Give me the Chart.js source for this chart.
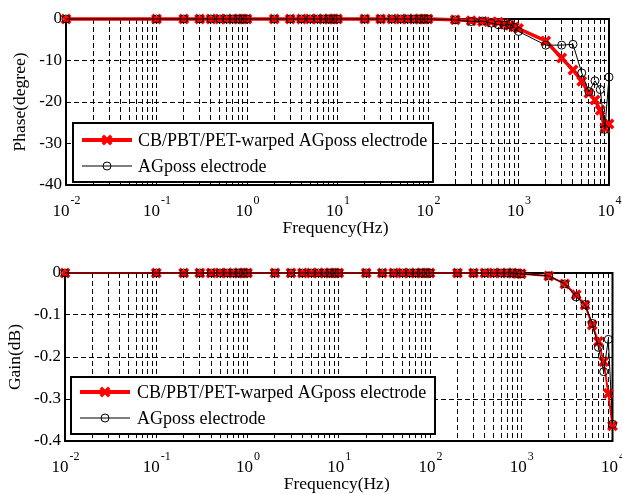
<!DOCTYPE html>
<html><head><meta charset="utf-8">
<script src="https://cdn.jsdelivr.net/npm/chart.js@4.4.1/dist/chart.umd.min.js"></script>
<style>html,body{margin:0;padding:0;background:#fff;width:622px;height:494px;overflow:hidden;} canvas{display:block;position:absolute;left:0;}</style>
</head><body>
<canvas id="c1" width="622" height="247" style="top:0"></canvas>
<canvas id="c2" width="622" height="247" style="top:247px"></canvas>
<script>
// ---- data ----
const frequencies = [0.01,
  0.1,0.2,0.3,0.4,0.5,0.6,0.7,0.8,0.9,1,
  2,3,4,5,6,7,8,9,10,
  20,30,40,50,60,70,80,90,100,
  200,300,400,500,600,700,800,900,1000,
  2000,3000,4000,5000,6000,7000,8000,9000,10000];
const phaseCoated = [0,
  0,0,0,0,0,0,0,0,0,0,
  0,0,0,0,0,0,0,0,0,
  0,0,0,0,0,0,0,0,0,
  -0.2,-0.4,-0.6,-0.7,-0.8,-1.2,-1.5,-1.9,-2.3,
  -5.3,-9.4,-12.3,-15,-17.9,-19.5,-22,-26.3,-25.3];
const phaseAGposs = [0,
  0,0,0,0,0,0,0,0,0,0,
  0,0,0,0,0,0,0,0,0,
  0,0,0,0,0,0,0,0,0,
  -0.2,-0.6,-0.5,-1.0,-1.4,-1.5,-1.3,-2.0,-3.0,
  -6.3,-6.3,-6.1,-13,-17.5,-14.9,-17,-26.6,-14];
const gainCoated = [0,
  0,0,0,0,0,0,0,0,0,0,
  0,0,0,0,0,0,0,0,0,
  0,0,0,0,0,0,0,0,0,
  0,0,0,0,0,0,0,-0.001,-0.002,
  -0.007,-0.026,-0.052,-0.076,-0.124,-0.163,-0.211,-0.287,-0.364];
const gainAGposs = [0,
  0,0,0,0,0,0,0,0,0,0,
  0,0,0,0,0,0,0,0,0,
  0,0,0,0,0,0,0,0,0,
  0,0,0,0,0,0,0,-0.001,-0.002,
  -0.007,-0.026,-0.057,-0.075,-0.12,-0.177,-0.235,-0.158,-0.36];
const seriesLabels = ['CB/PBT/PET-warped AGposs electrode', 'AGposs electrode'];
const xTickExponents = [-2, -1, 0, 1, 2, 3, 4];
const xTitle = 'Frequency(Hz)';
const phaseTitle = 'Phase(degree)';
const gainTitle = 'Gain(dB)';

// ---- drawing ----
const SERIF = '"Liberation Serif", "Times New Roman", serif';
Chart.defaults.font.family = SERIF;
Chart.defaults.color = '#000';

const gridValues = [];
for (let e = -2; e <= 3; e++) for (let m = 1; m <= 9; m++) gridValues.push(m * Math.pow(10, e));
gridValues.push(10000);

function pts(arr) { return frequencies.map((f, i) => ({x: f, y: arr[i]})); }

function overlayPlugin(o) {
  return {
    id: 'overlay',
    beforeDatasetsDraw(chart) {
      const ctx = chart.ctx, a = chart.chartArea;
      ctx.save();
      ctx.strokeStyle = '#000'; ctx.lineWidth = 2; ctx.setLineDash([]);
      ctx.strokeRect(a.left, a.top, a.right - a.left, a.bottom - a.top);
      ctx.restore();
    },
    afterDraw(chart) {
      const ctx = chart.ctx, a = chart.chartArea, xs = chart.scales.x;
      ctx.save();
      ctx.fillStyle = '#000';
      ctx.textAlign = 'left'; ctx.textBaseline = 'alphabetic';
      xTickExponents.forEach(e => {
        const px = xs.getPixelForValue(Math.pow(10, e));
        ctx.font = '17px ' + SERIF;
        const w10 = ctx.measureText('10').width;
        ctx.font = '12px ' + SERIF;
        const sup = String(e);
        const ws = ctx.measureText(sup).width;
        const start = px - (w10 + ws) / 2;
        ctx.font = '17px ' + SERIF;
        ctx.fillText('10', start, a.bottom + 31);
        ctx.font = '12px ' + SERIF;
        ctx.fillText(sup, start + w10 + 1, a.bottom + 19);
      });
      // x title
      ctx.font = '17.5px ' + SERIF;
      ctx.textAlign = 'center';
      ctx.fillText(xTitle, (a.left + a.right) / 2 - 2, a.bottom + 48);
      // y title
      ctx.save();
      ctx.translate(o.yTitleX, (a.top + a.bottom) / 2);
      ctx.rotate(-Math.PI / 2);
      ctx.textBaseline = 'middle';
      ctx.fillText(o.yTitle, 0, 0);
      ctx.restore();
      // legend
      const b = o.legend;
      ctx.fillStyle = '#fff';
      ctx.fillRect(b.x, b.y, b.w, b.h);
      ctx.strokeStyle = '#000'; ctx.lineWidth = 2; ctx.setLineDash([]);
      ctx.strokeRect(b.x, b.y, b.w, b.h);
      const ds = chart.data.datasets;
      b.rows.forEach((ry, i) => {
        const d = ds[i];
        ctx.strokeStyle = d.borderColor; ctx.lineWidth = i === 0 ? 4 : d.borderWidth;
        ctx.beginPath(); ctx.moveTo(b.lx0, ry); ctx.lineTo(b.lx1, ry); ctx.stroke();
        ctx.strokeStyle = d.pointBorderColor; ctx.fillStyle = d.pointBackgroundColor;
        ctx.lineWidth = d.pointBorderWidth;
        Chart.helpers.drawPoint(ctx, {pointStyle: d.pointStyle, radius: d.pointRadius, borderWidth: d.pointBorderWidth, rotation: 0}, (b.lx0 + b.lx1) / 2, ry);
        ctx.fillStyle = '#000';
        ctx.font = '18px ' + SERIF;
        ctx.textAlign = 'left'; ctx.textBaseline = 'middle';
        ctx.fillText(d.label, b.tx, ry + 1);
      });
      ctx.restore();
    }
  };
}

function makeChart(id, redData, blackData, o) {
  return new Chart(document.getElementById(id), {
    type: 'line',
    data: {
      datasets: [
        {label: seriesLabels[0], data: pts(redData), borderColor: '#ff0000', borderWidth: o.redWidth,
         pointStyle: 'crossRot', pointRadius: 6, pointBorderWidth: 3.5, pointBorderColor: '#ff0000',
         pointBackgroundColor: '#ff0000', order: 2, clip: false, tension: 0},
        {label: seriesLabels[1], data: pts(blackData), borderColor: '#000', borderWidth: 1,
         pointStyle: 'circle', pointRadius: 4, pointBorderWidth: 1, pointBorderColor: '#000',
         pointBackgroundColor: 'rgba(0,0,0,0)', order: 1, clip: false, tension: 0}
      ]
    },
    options: {
      responsive: false, animation: false, devicePixelRatio: 1, events: [],
      layout: {padding: {left: 0, top: o.top, right: o.right, bottom: 0}},
      plugins: {legend: {display: false}, tooltip: {enabled: false}},
      scales: {
        x: {
          type: 'logarithmic', min: 0.01, max: 10000,
          ticks: {display: false, autoSkip: false},
          afterBuildTicks(s) { s.ticks = gridValues.map(v => ({value: v})); },
          afterFit(s) { s.height = o.xHeight; },
          grid: {color: '#000', lineWidth: 1, drawTicks: false},
          border: {display: false, dash: [5, 3]}
        },
        y: {
          type: 'linear', min: o.ymin, max: 0,
          ticks: {stepSize: o.step, padding: 4, font: {size: 17, family: SERIF}, color: '#000',
                  callback: v => String(Math.round(v * 10) / 10)},
          afterFit(s) { s.width = o.left; },
          grid: {color: '#000', lineWidth: 1, drawTicks: false},
          border: {display: false, dash: [5, 3]}
        }
      }
    },
    plugins: [overlayPlugin(o)]
  });
}

makeChart('c1', phaseCoated, phaseAGposs, {
  top: 19, right: 13, left: 66, xHeight: 62, ymin: -40, step: 10, redWidth: 3.5,
  yTitle: phaseTitle, yTitleX: 20,
  legend: {x: 73, y: 123, w: 360, h: 59, rows: [140, 166], lx0: 82, lx1: 132, tx: 138}
});
makeChart('c2', gainCoated, gainAGposs, {
  top: 26, right: 9, left: 65, xHeight: 53, ymin: -0.4, step: 0.1, redWidth: 2,
  yTitle: gainTitle, yTitleX: 15,
  legend: {x: 71, y: 130, w: 364, h: 57, rows: [145, 171], lx0: 80, lx1: 130, tx: 137}
});
</script>
</body></html>
